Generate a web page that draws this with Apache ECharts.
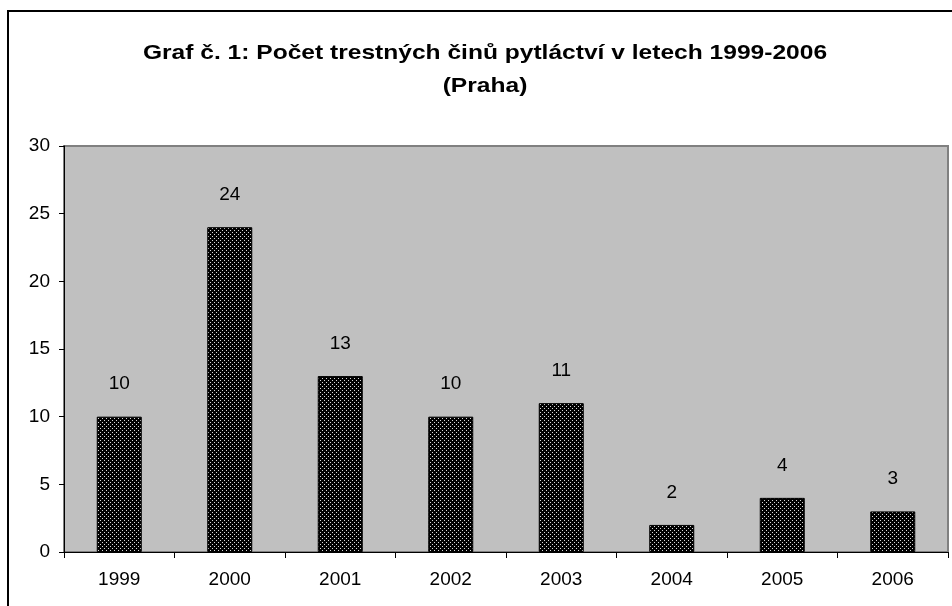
<!DOCTYPE html>
<html>
<head>
<meta charset="utf-8">
<script src="https://cdn.jsdelivr.net/npm/echarts@6/dist/echarts.min.js"></script>
<style>
  html, body { margin: 0; padding: 0; background: #fff; }
  #chart { width: 952px; height: 606px; }
</style>
</head>
<body>
<div id="chart"></div>
<script>
// data
var years = ["1999", "2000", "2001", "2002", "2003", "2004", "2005", "2006"];
var counts = [10, 24, 13, 10, 11, 2, 4, 3];
var yTicks = [0, 5, 10, 15, 20, 25, 30];
var titleLines = ["Graf č. 1: Počet trestných činů pytláctví v letech 1999-2006", "(Praha)"];

// black fill with small white dots, like the old Excel pattern
function dotPattern() {
  var c = document.createElement("canvas");
  c.width = 4;
  c.height = 4;
  var ctx = c.getContext("2d");
  ctx.fillStyle = "#000";
  ctx.fillRect(0, 0, 4, 4);
  ctx.fillStyle = "#d8d8d8";
  ctx.fillRect(0, 0, 1, 1);
  ctx.fillRect(2, 2, 1, 1);
  return c;
}

var myChart = echarts.init(document.getElementById("chart"));
var option = {
  animation: false,
  graphic: [
    {
      // title is a bit wider than plain Arial bold, so stretch it
      type: "text",
      x: 485,
      y: 70,
      scaleX: 1.17,
      style: {
        text: titleLines.join("\n"),
        align: "center",
        verticalAlign: "middle",
        font: "bold 21px 'Liberation Sans'",
        lineHeight: 33,
        fill: "#000"
      }
    },
    {
      type: "rect",
      shape: { x: 8, y: 11, width: 960, height: 620 },
      style: { fill: "none", stroke: "#000", lineWidth: 2 },
      z: 100
    }
  ],
  grid: {
    left: 64,
    right: 4,
    top: 146,
    bottom: 54,
    show: true,
    backgroundColor: "#c0c0c0",
    borderColor: "#808080",
    borderWidth: 2
  },
  xAxis: {
    type: "category",
    data: years,
    axisLine: { lineStyle: { color: "#000", width: 1 } },
    axisTick: { show: true, length: 6, lineStyle: { color: "#000" } },
    axisLabel: {
      fontFamily: "Liberation Sans",
      fontSize: 19,
      color: "#000",
      margin: 18
    },
    splitLine: { show: false }
  },
  yAxis: {
    type: "value",
    min: 0,
    max: 30,
    interval: 5,
    axisLine: { show: true, lineStyle: { color: "#000", width: 1 } },
    axisTick: { show: true, length: 5, lineStyle: { color: "#000" } },
    axisLabel: {
      fontFamily: "Liberation Sans",
      fontSize: 19,
      color: "#000",
      margin: 14,
      formatter: function (v) {
        return yTicks.indexOf(v) >= 0 ? String(v) : "";
      }
    },
    splitLine: { show: false }
  },
  series: [
    {
      type: "bar",
      data: counts,
      barWidth: 45,
      itemStyle: {
        color: { image: dotPattern(), repeat: "repeat" },
        borderColor: "#000",
        borderWidth: 1
      },
      label: {
        show: true,
        position: "top",
        distance: 23,
        fontFamily: "Liberation Sans",
        fontSize: 19,
        color: "#000"
      }
    }
  ]
};
myChart.setOption(option);
</script>
</body>
</html>
